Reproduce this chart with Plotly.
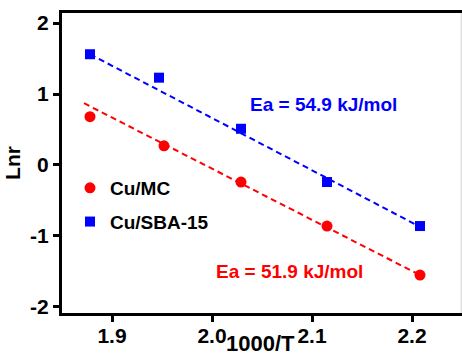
import plotly.graph_objects as go

# Data
x_mc = [1.878, 1.952, 2.029, 2.115, 2.208]
y_mc = [0.68, 0.27, -0.24, -0.86, -1.55]
x_sba = [1.878, 1.947, 2.029, 2.115, 2.208]
y_sba = [1.56, 1.23, 0.51, -0.24, -0.86]

# fitted lines (endpoints)
fit_mc_x = [1.872, 2.208]
fit_mc_y = [0.87, -1.55]
fit_sba_x = [1.878, 2.208]
fit_sba_y = [1.56, -0.87]

x_ticks = [1.9, 2.0, 2.1, 2.2]
x_ticklabels = ["1.9", "2.0", "2.1", "2.2"]
y_ticks = [-2, -1, 0, 1, 2]
y_ticklabels = ["-2", "-1", "0", "1", "2"]

labels = ["Cu/MC", "Cu/SBA-15"]
ea_text = ["Ea = 51.9 kJ/mol", "Ea = 54.9 kJ/mol"]

RED = "#ff0000"
BLUE = "#0000ff"
FONT = "Liberation Sans, Arial, sans-serif"

fig = go.Figure()
fig.add_trace(go.Scatter(x=fit_mc_x, y=fit_mc_y, mode="lines",
                         line=dict(color=RED, width=2, dash="6px,4px"),
                         showlegend=False, hoverinfo="skip"))
fig.add_trace(go.Scatter(x=fit_sba_x, y=fit_sba_y, mode="lines",
                         line=dict(color=BLUE, width=2, dash="6px,4px"),
                         showlegend=False, hoverinfo="skip"))
fig.add_trace(go.Scatter(x=x_mc, y=y_mc, mode="markers", name=labels[0],
                         legendgroup="a",
                         marker=dict(symbol="circle", size=11, color=RED)))
fig.add_trace(go.Scatter(x=x_sba, y=y_sba, mode="markers", name=labels[1],
                         legendgroup="b",
                         marker=dict(symbol="square", size=10, color=BLUE)))

fig.add_annotation(x=2.077, y=-1.507, text="<b>" + ea_text[0] + "</b>",
                   showarrow=False, font=dict(family=FONT, size=19, color=RED))
fig.add_annotation(x=2.111, y=0.859, text="<b>" + ea_text[1] + "</b>",
                   showarrow=False, font=dict(family=FONT, size=19, color=BLUE))
fig.add_annotation(x=0.495, xref="paper", y=-0.1, yref="paper", yanchor="middle",
                   text="<b>1000/T</b>", showarrow=False,
                   font=dict(family=FONT, size=22, color="black"))

fig.add_shape(type="line", xref="paper", yref="paper", x0=0.998, x1=0.998, y0=0, y1=1,
              line=dict(color="#d0d0d0", width=1))

fig.update_layout(
    width=462, height=361,
    margin=dict(l=62, r=0, t=13, b=48),
    paper_bgcolor="white", plot_bgcolor="white",
    font=dict(family=FONT, color="black"),
    legend=dict(x=0.02, y=0.48, xanchor="left", yanchor="top",
                font=dict(family=FONT, size=19, color="black", weight="bold"),
                tracegroupgap=6, bgcolor="rgba(0,0,0,0)",
                itemwidth=30),
    xaxis=dict(range=[1.85, 2.25], tickvals=x_ticks, ticktext=x_ticklabels,
               ticks="outside", ticklen=6, tickwidth=3, tickcolor="black",
               ticklabelstandoff=-4,
               showline=True, linewidth=3, linecolor="black", mirror=True,
               showgrid=False, zeroline=False,
               tickfont=dict(family=FONT, size=21, color="black", weight="bold")),
    yaxis=dict(range=[-2.085, 2.141], tickvals=y_ticks, ticktext=y_ticklabels,
               ticks="outside", ticklen=6, tickwidth=3, tickcolor="black",
               showline=True, linewidth=3, linecolor="black", mirror=False,
               showgrid=False, zeroline=False,
               tickfont=dict(family=FONT, size=21, color="black", weight="bold"),
               title=dict(text="<b>Lnr</b>", standoff=4,
                          font=dict(family=FONT, size=21, color="black"))),
)

fig.write_html("out.html")
